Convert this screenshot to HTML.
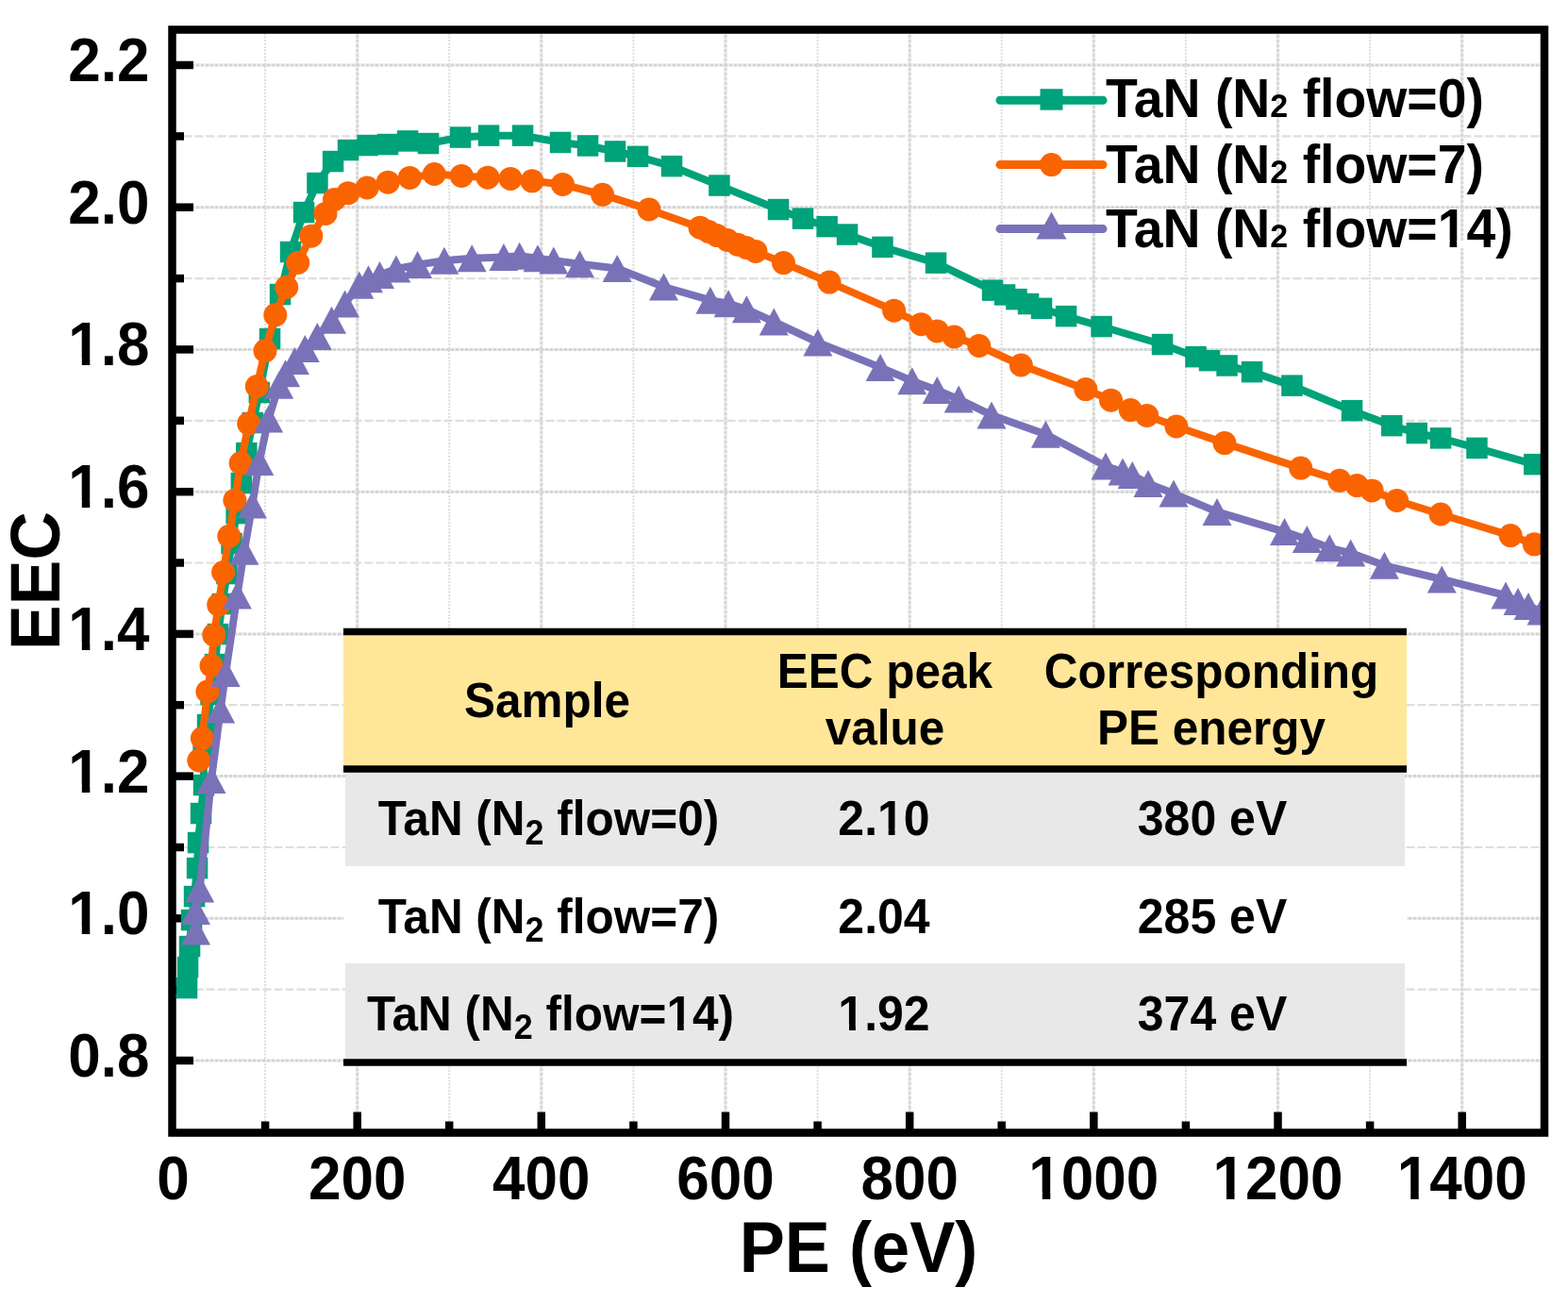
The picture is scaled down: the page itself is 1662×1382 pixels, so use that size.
<!DOCTYPE html>
<html><head><meta charset="utf-8"><title>EEC vs PE</title><style>
html,body{margin:0;padding:0;background:#fff;width:1662px;height:1382px;overflow:hidden}
.gM{stroke:#d4d4d4;stroke-width:3;stroke-dasharray:4 1}
.gm{stroke:#dedede;stroke-width:2.2;stroke-dasharray:9 3}
.vM{stroke:#d8d8d8;stroke-width:3.2;stroke-dasharray:4 1}
.vm{stroke:#dcdcdc;stroke-width:2;stroke-dasharray:2 1.5}
</style></head>
<body><svg width="1662" height="1382" viewBox="0 0 1662 1382" style="display:block"><rect width="1662" height="1382" fill="#fff"/><g><line x1="281.1" y1="31.5" x2="281.1" y2="1200.5" class="vm"/><line x1="378.7" y1="31.5" x2="378.7" y2="1200.5" class="vM"/><line x1="476.2" y1="31.5" x2="476.2" y2="1200.5" class="vm"/><line x1="573.8" y1="31.5" x2="573.8" y2="1200.5" class="vM"/><line x1="671.4" y1="31.5" x2="671.4" y2="1200.5" class="vm"/><line x1="769.0" y1="31.5" x2="769.0" y2="1200.5" class="vM"/><line x1="866.6" y1="31.5" x2="866.6" y2="1200.5" class="vm"/><line x1="964.2" y1="31.5" x2="964.2" y2="1200.5" class="vM"/><line x1="1061.7" y1="31.5" x2="1061.7" y2="1200.5" class="vm"/><line x1="1159.3" y1="31.5" x2="1159.3" y2="1200.5" class="vM"/><line x1="1256.9" y1="31.5" x2="1256.9" y2="1200.5" class="vm"/><line x1="1354.5" y1="31.5" x2="1354.5" y2="1200.5" class="vM"/><line x1="1452.1" y1="31.5" x2="1452.1" y2="1200.5" class="vm"/><line x1="1549.7" y1="31.5" x2="1549.7" y2="1200.5" class="vM"/><line x1="182.5" y1="1124.0" x2="1637" y2="1124.0" class="gM"/><line x1="182.5" y1="1048.7" x2="1637" y2="1048.7" class="gm"/><line x1="182.5" y1="973.3" x2="1637" y2="973.3" class="gM"/><line x1="182.5" y1="898.0" x2="1637" y2="898.0" class="gm"/><line x1="182.5" y1="822.6" x2="1637" y2="822.6" class="gM"/><line x1="182.5" y1="747.2" x2="1637" y2="747.2" class="gm"/><line x1="182.5" y1="671.9" x2="1637" y2="671.9" class="gM"/><line x1="182.5" y1="596.5" x2="1637" y2="596.5" class="gm"/><line x1="182.5" y1="521.2" x2="1637" y2="521.2" class="gM"/><line x1="182.5" y1="445.8" x2="1637" y2="445.8" class="gm"/><line x1="182.5" y1="370.4" x2="1637" y2="370.4" class="gM"/><line x1="182.5" y1="295.1" x2="1637" y2="295.1" class="gm"/><line x1="182.5" y1="219.7" x2="1637" y2="219.7" class="gM"/><line x1="182.5" y1="144.4" x2="1637" y2="144.4" class="gm"/><line x1="182.5" y1="69.0" x2="1637" y2="69.0" class="gM"/></g><g stroke="#000" stroke-width="8.5"><line x1="281.1" y1="1200.5" x2="281.1" y2="1188.5"/><line x1="378.7" y1="1200.5" x2="378.7" y2="1178.5"/><line x1="476.2" y1="1200.5" x2="476.2" y2="1188.5"/><line x1="573.8" y1="1200.5" x2="573.8" y2="1178.5"/><line x1="671.4" y1="1200.5" x2="671.4" y2="1188.5"/><line x1="769.0" y1="1200.5" x2="769.0" y2="1178.5"/><line x1="866.6" y1="1200.5" x2="866.6" y2="1188.5"/><line x1="964.2" y1="1200.5" x2="964.2" y2="1178.5"/><line x1="1061.7" y1="1200.5" x2="1061.7" y2="1188.5"/><line x1="1159.3" y1="1200.5" x2="1159.3" y2="1178.5"/><line x1="1256.9" y1="1200.5" x2="1256.9" y2="1188.5"/><line x1="1354.5" y1="1200.5" x2="1354.5" y2="1178.5"/><line x1="1452.1" y1="1200.5" x2="1452.1" y2="1188.5"/><line x1="1549.7" y1="1200.5" x2="1549.7" y2="1178.5"/><line x1="182.5" y1="1124.0" x2="205.0" y2="1124.0"/><line x1="182.5" y1="1048.7" x2="195.0" y2="1048.7"/><line x1="182.5" y1="973.3" x2="205.0" y2="973.3"/><line x1="182.5" y1="898.0" x2="195.0" y2="898.0"/><line x1="182.5" y1="822.6" x2="205.0" y2="822.6"/><line x1="182.5" y1="747.2" x2="195.0" y2="747.2"/><line x1="182.5" y1="671.9" x2="205.0" y2="671.9"/><line x1="182.5" y1="596.5" x2="195.0" y2="596.5"/><line x1="182.5" y1="521.2" x2="205.0" y2="521.2"/><line x1="182.5" y1="445.8" x2="195.0" y2="445.8"/><line x1="182.5" y1="370.4" x2="205.0" y2="370.4"/><line x1="182.5" y1="295.1" x2="195.0" y2="295.1"/><line x1="182.5" y1="219.7" x2="205.0" y2="219.7"/><line x1="182.5" y1="144.4" x2="195.0" y2="144.4"/><line x1="182.5" y1="69.0" x2="205.0" y2="69.0"/></g><rect x="364" y="670" width="1127" height="145" fill="#FFE699"/><rect x="366" y="815" width="1123" height="103" fill="#E8E8E8"/><rect x="364" y="918" width="1127" height="103" fill="#FFFFFF"/><rect x="366" y="1021" width="1123" height="102" fill="#E8E8E8"/><g stroke="#000" stroke-width="7.5"><line x1="364" y1="669.5" x2="1491" y2="669.5"/><line x1="364" y1="815" x2="1491" y2="815"/><line x1="364" y1="1126" x2="1491" y2="1126"/></g><text transform="translate(580.0,759.5) scale(0.9609,1)" text-anchor="middle" style="font-family:'Liberation Sans',Arial,sans-serif;font-weight:bold;font-size:51.51px">Sample</text><text transform="translate(938.0,729.0) scale(0.9609,1)" text-anchor="middle" style="font-family:'Liberation Sans',Arial,sans-serif;font-weight:bold;font-size:51.51px">EEC peak</text><text transform="translate(938.0,788.5) scale(0.9609,1)" text-anchor="middle" style="font-family:'Liberation Sans',Arial,sans-serif;font-weight:bold;font-size:51.51px">value</text><text transform="translate(1284.0,729.3) scale(0.9609,1)" text-anchor="middle" style="font-family:'Liberation Sans',Arial,sans-serif;font-weight:bold;font-size:51.51px">Corresponding</text><text transform="translate(1284.0,789.0) scale(0.9609,1)" text-anchor="middle" style="font-family:'Liberation Sans',Arial,sans-serif;font-weight:bold;font-size:51.51px">PE energy</text><text transform="translate(581.5,885.0) scale(0.9609,1)" text-anchor="middle" style="font-family:'Liberation Sans',Arial,sans-serif;font-weight:bold;font-size:51.51px">TaN (N<tspan dy="9.5" style="font-size:37.47px">2</tspan><tspan dy="-9.5"> flow=0)</tspan></text><text id="t1" transform="translate(937.0,885.0) scale(0.9609,1)" text-anchor="middle" style="font-family:'Liberation Sans',Arial,sans-serif;font-weight:bold;font-size:52.03px">2.10</text><g transform="translate(937.0,885.0) scale(0.9609,1)" fill="#E8E8E8"><rect x="-4.78" y="-6.61" width="9.67" height="7.81"/><rect x="12.02" y="-6.61" width="9.01" height="7.81"/></g><text transform="translate(1285.0,885.0) scale(0.9609,1)" text-anchor="middle" style="font-family:'Liberation Sans',Arial,sans-serif;font-weight:bold;font-size:52.03px">380 eV</text><text transform="translate(581.5,988.5) scale(0.9609,1)" text-anchor="middle" style="font-family:'Liberation Sans',Arial,sans-serif;font-weight:bold;font-size:51.51px">TaN (N<tspan dy="9.5" style="font-size:37.47px">2</tspan><tspan dy="-9.5"> flow=7)</tspan></text><text transform="translate(937.0,988.5) scale(0.9609,1)" text-anchor="middle" style="font-family:'Liberation Sans',Arial,sans-serif;font-weight:bold;font-size:52.03px">2.04</text><text transform="translate(1285.0,988.5) scale(0.9609,1)" text-anchor="middle" style="font-family:'Liberation Sans',Arial,sans-serif;font-weight:bold;font-size:52.03px">285 eV</text><text id="t2" transform="translate(583.5,1091.5) scale(0.9609,1)" text-anchor="middle" style="font-family:'Liberation Sans',Arial,sans-serif;font-weight:bold;font-size:51.51px">TaN (N<tspan dy="9.5" style="font-size:37.47px">2</tspan><tspan dy="-9.5"> flow=14)</tspan></text><g transform="translate(583.5,1091.5) scale(0.9609,1)" fill="#E8E8E8"><rect x="130.37" y="-6.56" width="9.58" height="7.76"/><rect x="147.01" y="-6.56" width="8.92" height="7.76"/></g><text id="t3" transform="translate(937.0,1091.5) scale(0.9609,1)" text-anchor="middle" style="font-family:'Liberation Sans',Arial,sans-serif;font-weight:bold;font-size:52.03px">1.92</text><g transform="translate(937.0,1091.5) scale(0.9609,1)" fill="#E8E8E8"><rect x="-48.15" y="-6.61" width="9.67" height="7.81"/><rect x="-31.35" y="-6.61" width="9.01" height="7.81"/></g><text transform="translate(1285.0,1091.5) scale(0.9609,1)" text-anchor="middle" style="font-family:'Liberation Sans',Arial,sans-serif;font-weight:bold;font-size:52.03px">374 eV</text><defs><clipPath id="pc"><rect x="182.5" y="31.5" width="1454.5" height="1169.0"/></clipPath></defs><g clip-path="url(#pc)"><polyline points="198.0,1047.0 199.0,1025.0 201.0,1003.0 203.0,975.0 206.0,950.0 209.0,920.0 210.0,893.0 213.0,862.0 216.0,832.0 215.7,800.0 220.0,768.0 223.6,736.0 228.1,704.0 230.9,672.0 235.8,640.0 240.4,608.0 245.6,576.0 250.7,544.0 255.8,512.0 261.3,480.0 267.9,448.0 274.9,416.0 286.0,359.0 297.0,312.0 308.0,267.0 322.0,225.0 336.5,194.0 353.0,171.0 369.0,159.0 389.6,154.0 411.0,153.0 432.0,149.4 454.0,152.0 488.0,145.6 518.0,143.7 554.0,143.7 594.0,150.9 623.0,154.5 652.0,160.5 676.0,165.8 712.0,176.2 762.5,196.6 825.0,222.0 851.0,231.7 876.6,240.2 898.0,248.6 935.5,261.8 992.0,278.7 1052.0,307.6 1065.0,312.5 1077.5,317.2 1090.0,322.0 1104.0,326.8 1130.0,335.2 1167.6,346.0 1232.0,365.0 1267.5,378.2 1282.0,382.2 1300.6,387.5 1327.0,394.1 1369.4,408.7 1433.0,435.2 1475.3,451.1 1501.8,459.0 1527.0,464.3 1565.4,474.9 1626.3,492.1" fill="none" stroke="#00A27A" stroke-width="8" stroke-linejoin="round"/><g fill="#00A27A"><rect x="186.8" y="1035.8" width="22.5" height="22.5"/><rect x="187.8" y="1013.8" width="22.5" height="22.5"/><rect x="189.8" y="991.8" width="22.5" height="22.5"/><rect x="191.8" y="963.8" width="22.5" height="22.5"/><rect x="194.8" y="938.8" width="22.5" height="22.5"/><rect x="197.8" y="908.8" width="22.5" height="22.5"/><rect x="198.8" y="881.8" width="22.5" height="22.5"/><rect x="201.8" y="850.8" width="22.5" height="22.5"/><rect x="204.8" y="820.8" width="22.5" height="22.5"/><rect x="204.4" y="788.8" width="22.5" height="22.5"/><rect x="208.8" y="756.8" width="22.5" height="22.5"/><rect x="212.3" y="724.8" width="22.5" height="22.5"/><rect x="216.8" y="692.8" width="22.5" height="22.5"/><rect x="219.7" y="660.8" width="22.5" height="22.5"/><rect x="224.6" y="628.8" width="22.5" height="22.5"/><rect x="229.2" y="596.8" width="22.5" height="22.5"/><rect x="234.3" y="564.8" width="22.5" height="22.5"/><rect x="239.4" y="532.8" width="22.5" height="22.5"/><rect x="244.6" y="500.8" width="22.5" height="22.5"/><rect x="250.1" y="468.8" width="22.5" height="22.5"/><rect x="256.6" y="436.8" width="22.5" height="22.5"/><rect x="263.6" y="404.8" width="22.5" height="22.5"/><rect x="274.8" y="347.8" width="22.5" height="22.5"/><rect x="285.8" y="300.8" width="22.5" height="22.5"/><rect x="296.8" y="255.8" width="22.5" height="22.5"/><rect x="310.8" y="213.8" width="22.5" height="22.5"/><rect x="325.2" y="182.8" width="22.5" height="22.5"/><rect x="341.8" y="159.8" width="22.5" height="22.5"/><rect x="357.8" y="147.8" width="22.5" height="22.5"/><rect x="378.4" y="142.8" width="22.5" height="22.5"/><rect x="399.8" y="141.8" width="22.5" height="22.5"/><rect x="420.8" y="138.2" width="22.5" height="22.5"/><rect x="442.8" y="140.8" width="22.5" height="22.5"/><rect x="476.8" y="134.3" width="22.5" height="22.5"/><rect x="506.8" y="132.4" width="22.5" height="22.5"/><rect x="542.8" y="132.4" width="22.5" height="22.5"/><rect x="582.8" y="139.7" width="22.5" height="22.5"/><rect x="611.8" y="143.2" width="22.5" height="22.5"/><rect x="640.8" y="149.2" width="22.5" height="22.5"/><rect x="664.8" y="154.6" width="22.5" height="22.5"/><rect x="700.8" y="164.9" width="22.5" height="22.5"/><rect x="751.2" y="185.3" width="22.5" height="22.5"/><rect x="813.8" y="210.8" width="22.5" height="22.5"/><rect x="839.8" y="220.4" width="22.5" height="22.5"/><rect x="865.4" y="228.9" width="22.5" height="22.5"/><rect x="886.8" y="237.3" width="22.5" height="22.5"/><rect x="924.2" y="250.6" width="22.5" height="22.5"/><rect x="980.8" y="267.4" width="22.5" height="22.5"/><rect x="1040.8" y="296.4" width="22.5" height="22.5"/><rect x="1053.8" y="301.2" width="22.5" height="22.5"/><rect x="1066.2" y="305.9" width="22.5" height="22.5"/><rect x="1078.8" y="310.8" width="22.5" height="22.5"/><rect x="1092.8" y="315.6" width="22.5" height="22.5"/><rect x="1118.8" y="323.9" width="22.5" height="22.5"/><rect x="1156.3" y="334.8" width="22.5" height="22.5"/><rect x="1220.8" y="353.8" width="22.5" height="22.5"/><rect x="1256.2" y="366.9" width="22.5" height="22.5"/><rect x="1270.8" y="370.9" width="22.5" height="22.5"/><rect x="1289.3" y="376.2" width="22.5" height="22.5"/><rect x="1315.8" y="382.9" width="22.5" height="22.5"/><rect x="1358.2" y="397.4" width="22.5" height="22.5"/><rect x="1421.8" y="423.9" width="22.5" height="22.5"/><rect x="1464.0" y="439.9" width="22.5" height="22.5"/><rect x="1490.5" y="447.8" width="22.5" height="22.5"/><rect x="1515.8" y="453.1" width="22.5" height="22.5"/><rect x="1554.2" y="463.6" width="22.5" height="22.5"/><rect x="1615.0" y="480.9" width="22.5" height="22.5"/></g><polyline points="210.8,806.0 214.4,782.6 219.9,733.0 224.0,705.5 226.8,672.9 231.7,640.9 236.6,606.5 242.8,568.3 248.9,530.2 255.1,490.8 263.7,448.9 272.3,409.5 281.0,371.8 291.8,333.8 303.7,304.5 315.7,278.5 329.8,250.2 345.0,226.4 354.4,211.5 369.0,204.7 389.1,199.0 411.2,193.2 434.3,188.4 460.3,184.5 489.2,186.4 517.0,188.2 541.1,189.4 564.0,191.8 596.4,195.4 638.6,206.3 687.9,221.9 742.0,241.2 751.0,245.5 760.1,249.6 771.0,254.5 781.8,259.2 791.0,262.5 801.0,266.4 830.5,278.6 879.0,299.1 947.6,329.2 976.4,343.7 993.3,350.9 1011.3,356.9 1037.8,366.5 1082.3,387.0 1150.8,412.6 1177.5,424.2 1198.3,434.6 1215.7,440.4 1246.9,452.0 1298.0,469.6 1378.7,496.1 1419.8,509.3 1438.3,514.6 1454.2,519.9 1480.6,530.5 1527.0,545.0 1601.1,567.6 1626.3,576.8" fill="none" stroke="#FA6400" stroke-width="8" stroke-linejoin="round"/><g fill="#FA6400"><circle cx="210.8" cy="806.0" r="12.5"/><circle cx="214.4" cy="782.6" r="12.5"/><circle cx="219.9" cy="733.0" r="12.5"/><circle cx="224.0" cy="705.5" r="12.5"/><circle cx="226.8" cy="672.9" r="12.5"/><circle cx="231.7" cy="640.9" r="12.5"/><circle cx="236.6" cy="606.5" r="12.5"/><circle cx="242.8" cy="568.3" r="12.5"/><circle cx="248.9" cy="530.2" r="12.5"/><circle cx="255.1" cy="490.8" r="12.5"/><circle cx="263.7" cy="448.9" r="12.5"/><circle cx="272.3" cy="409.5" r="12.5"/><circle cx="281.0" cy="371.8" r="12.5"/><circle cx="291.8" cy="333.8" r="12.5"/><circle cx="303.7" cy="304.5" r="12.5"/><circle cx="315.7" cy="278.5" r="12.5"/><circle cx="329.8" cy="250.2" r="12.5"/><circle cx="345.0" cy="226.4" r="12.5"/><circle cx="354.4" cy="211.5" r="12.5"/><circle cx="369.0" cy="204.7" r="12.5"/><circle cx="389.1" cy="199.0" r="12.5"/><circle cx="411.2" cy="193.2" r="12.5"/><circle cx="434.3" cy="188.4" r="12.5"/><circle cx="460.3" cy="184.5" r="12.5"/><circle cx="489.2" cy="186.4" r="12.5"/><circle cx="517.0" cy="188.2" r="12.5"/><circle cx="541.1" cy="189.4" r="12.5"/><circle cx="564.0" cy="191.8" r="12.5"/><circle cx="596.4" cy="195.4" r="12.5"/><circle cx="638.6" cy="206.3" r="12.5"/><circle cx="687.9" cy="221.9" r="12.5"/><circle cx="742.0" cy="241.2" r="12.5"/><circle cx="751.0" cy="245.5" r="12.5"/><circle cx="760.1" cy="249.6" r="12.5"/><circle cx="771.0" cy="254.5" r="12.5"/><circle cx="781.8" cy="259.2" r="12.5"/><circle cx="791.0" cy="262.5" r="12.5"/><circle cx="801.0" cy="266.4" r="12.5"/><circle cx="830.5" cy="278.6" r="12.5"/><circle cx="879.0" cy="299.1" r="12.5"/><circle cx="947.6" cy="329.2" r="12.5"/><circle cx="976.4" cy="343.7" r="12.5"/><circle cx="993.3" cy="350.9" r="12.5"/><circle cx="1011.3" cy="356.9" r="12.5"/><circle cx="1037.8" cy="366.5" r="12.5"/><circle cx="1082.3" cy="387.0" r="12.5"/><circle cx="1150.8" cy="412.6" r="12.5"/><circle cx="1177.5" cy="424.2" r="12.5"/><circle cx="1198.3" cy="434.6" r="12.5"/><circle cx="1215.7" cy="440.4" r="12.5"/><circle cx="1246.9" cy="452.0" r="12.5"/><circle cx="1298.0" cy="469.6" r="12.5"/><circle cx="1378.7" cy="496.1" r="12.5"/><circle cx="1419.8" cy="509.3" r="12.5"/><circle cx="1438.3" cy="514.6" r="12.5"/><circle cx="1454.2" cy="519.9" r="12.5"/><circle cx="1480.6" cy="530.5" r="12.5"/><circle cx="1527.0" cy="545.0" r="12.5"/><circle cx="1601.1" cy="567.6" r="12.5"/><circle cx="1626.3" cy="576.8" r="12.5"/></g><polyline points="207.5,987.0 207.5,965.5 211.7,942.0 224.0,826.5 233.7,752.0 239.2,713.5 251.4,631.1 258.8,584.3 267.4,535.1 274.8,489.5 284.6,444.0 295.7,408.3 302.6,395.7 312.4,382.6 323.3,369.6 336.3,356.6 351.5,339.2 365.6,321.9 380.8,302.3 390.5,295.8 402.5,291.5 419.9,285.0 442.6,280.6 470.9,276.3 500.2,273.7 533.9,272.5 550.7,271.3 570.0,273.7 586.8,276.1 614.5,279.7 654.2,284.5 703.5,304.0 752.9,318.2 772.1,321.8 791.4,327.8 820.3,341.0 866.9,362.9 933.1,389.4 966.8,403.8 993.3,413.5 1016.2,423.1 1051.0,439.9 1108.4,460.3 1172.0,494.0 1190.0,500.0 1200.2,503.6 1217.0,512.6 1244.0,523.1 1290.0,542.4 1361.5,563.6 1385.3,571.5 1409.2,580.8 1431.7,586.1 1467.4,599.3 1528.3,613.9 1596.0,631.0 1609.0,637.6 1620.0,642.6 1634.0,648.0" fill="none" stroke="#7A72B8" stroke-width="8" stroke-linejoin="round"/><g fill="#7A72B8"><polygon points="207.5,972.5 223.0,1001.5 192.0,1001.5"/><polygon points="207.5,951.0 223.0,980.0 192.0,980.0"/><polygon points="211.7,927.5 227.2,956.5 196.2,956.5"/><polygon points="224.0,812.0 239.5,841.0 208.5,841.0"/><polygon points="233.7,737.5 249.2,766.5 218.2,766.5"/><polygon points="239.2,699.0 254.7,728.0 223.7,728.0"/><polygon points="251.4,616.6 266.9,645.6 235.9,645.6"/><polygon points="258.8,569.8 274.3,598.8 243.3,598.8"/><polygon points="267.4,520.6 282.9,549.6 251.9,549.6"/><polygon points="274.8,475.0 290.3,504.0 259.3,504.0"/><polygon points="284.6,429.5 300.1,458.5 269.1,458.5"/><polygon points="295.7,393.8 311.2,422.8 280.2,422.8"/><polygon points="302.6,381.2 318.1,410.2 287.1,410.2"/><polygon points="312.4,368.1 327.9,397.1 296.9,397.1"/><polygon points="323.3,355.1 338.8,384.1 307.8,384.1"/><polygon points="336.3,342.1 351.8,371.1 320.8,371.1"/><polygon points="351.5,324.7 367.0,353.7 336.0,353.7"/><polygon points="365.6,307.4 381.1,336.4 350.1,336.4"/><polygon points="380.8,287.8 396.3,316.8 365.3,316.8"/><polygon points="390.5,281.3 406.0,310.3 375.0,310.3"/><polygon points="402.5,277.0 418.0,306.0 387.0,306.0"/><polygon points="419.9,270.5 435.4,299.5 404.4,299.5"/><polygon points="442.6,266.1 458.1,295.1 427.1,295.1"/><polygon points="470.9,261.8 486.4,290.8 455.4,290.8"/><polygon points="500.2,259.2 515.7,288.2 484.7,288.2"/><polygon points="533.9,258.0 549.4,287.0 518.4,287.0"/><polygon points="550.7,256.8 566.2,285.8 535.2,285.8"/><polygon points="570.0,259.2 585.5,288.2 554.5,288.2"/><polygon points="586.8,261.6 602.3,290.6 571.3,290.6"/><polygon points="614.5,265.2 630.0,294.2 599.0,294.2"/><polygon points="654.2,270.0 669.7,299.0 638.7,299.0"/><polygon points="703.5,289.5 719.0,318.5 688.0,318.5"/><polygon points="752.9,303.7 768.4,332.7 737.4,332.7"/><polygon points="772.1,307.3 787.6,336.3 756.6,336.3"/><polygon points="791.4,313.3 806.9,342.3 775.9,342.3"/><polygon points="820.3,326.5 835.8,355.5 804.8,355.5"/><polygon points="866.9,348.4 882.4,377.4 851.4,377.4"/><polygon points="933.1,374.9 948.6,403.9 917.6,403.9"/><polygon points="966.8,389.3 982.3,418.3 951.3,418.3"/><polygon points="993.3,399.0 1008.8,428.0 977.8,428.0"/><polygon points="1016.2,408.6 1031.7,437.6 1000.7,437.6"/><polygon points="1051.0,425.4 1066.5,454.4 1035.5,454.4"/><polygon points="1108.4,445.8 1123.9,474.8 1092.9,474.8"/><polygon points="1172.0,479.5 1187.5,508.5 1156.5,508.5"/><polygon points="1190.0,485.5 1205.5,514.5 1174.5,514.5"/><polygon points="1200.2,489.1 1215.7,518.1 1184.7,518.1"/><polygon points="1217.0,498.1 1232.5,527.1 1201.5,527.1"/><polygon points="1244.0,508.6 1259.5,537.6 1228.5,537.6"/><polygon points="1290.0,527.9 1305.5,556.9 1274.5,556.9"/><polygon points="1361.5,549.1 1377.0,578.1 1346.0,578.1"/><polygon points="1385.3,557.0 1400.8,586.0 1369.8,586.0"/><polygon points="1409.2,566.3 1424.7,595.3 1393.7,595.3"/><polygon points="1431.7,571.6 1447.2,600.6 1416.2,600.6"/><polygon points="1467.4,584.8 1482.9,613.8 1451.9,613.8"/><polygon points="1528.3,599.4 1543.8,628.4 1512.8,628.4"/><polygon points="1596.0,616.5 1611.5,645.5 1580.5,645.5"/><polygon points="1609.0,623.1 1624.5,652.1 1593.5,652.1"/><polygon points="1620.0,628.1 1635.5,657.1 1604.5,657.1"/><polygon points="1634.0,633.5 1649.5,662.5 1618.5,662.5"/></g></g><rect x="182.5" y="31.5" width="1454.5" height="1169.0" fill="none" stroke="#000" stroke-width="8.5"/><text transform="translate(183.5,1271.0) scale(0.9609,1)" text-anchor="middle" style="font-family:'Liberation Sans',Arial,sans-serif;font-weight:bold;font-size:64.52px">0</text><text transform="translate(378.7,1271.0) scale(0.9609,1)" text-anchor="middle" style="font-family:'Liberation Sans',Arial,sans-serif;font-weight:bold;font-size:64.52px">200</text><text transform="translate(573.8,1271.0) scale(0.9609,1)" text-anchor="middle" style="font-family:'Liberation Sans',Arial,sans-serif;font-weight:bold;font-size:64.52px">400</text><text transform="translate(769.0,1271.0) scale(0.9609,1)" text-anchor="middle" style="font-family:'Liberation Sans',Arial,sans-serif;font-weight:bold;font-size:64.52px">600</text><text transform="translate(964.2,1271.0) scale(0.9609,1)" text-anchor="middle" style="font-family:'Liberation Sans',Arial,sans-serif;font-weight:bold;font-size:64.52px">800</text><text id="t4" transform="translate(1159.3,1271.0) scale(0.9609,1)" text-anchor="middle" style="font-family:'Liberation Sans',Arial,sans-serif;font-weight:bold;font-size:64.52px">1000</text><g transform="translate(1159.3,1271.0) scale(0.9609,1)" fill="#FFFFFF"><rect x="-68.50" y="-7.88" width="11.79" height="9.08"/><rect x="-47.85" y="-7.88" width="10.98" height="9.08"/></g><text id="t5" transform="translate(1354.5,1271.0) scale(0.9609,1)" text-anchor="middle" style="font-family:'Liberation Sans',Arial,sans-serif;font-weight:bold;font-size:64.52px">1200</text><g transform="translate(1354.5,1271.0) scale(0.9609,1)" fill="#FFFFFF"><rect x="-68.50" y="-7.88" width="11.79" height="9.08"/><rect x="-47.85" y="-7.88" width="10.98" height="9.08"/></g><text id="t6" transform="translate(1549.7,1271.0) scale(0.9609,1)" text-anchor="middle" style="font-family:'Liberation Sans',Arial,sans-serif;font-weight:bold;font-size:64.52px">1400</text><g transform="translate(1549.7,1271.0) scale(0.9609,1)" fill="#FFFFFF"><rect x="-68.50" y="-7.88" width="11.79" height="9.08"/><rect x="-47.85" y="-7.88" width="10.98" height="9.08"/></g><text transform="translate(158.5,1141.0) scale(0.9609,1)" text-anchor="end" style="font-family:'Liberation Sans',Arial,sans-serif;font-weight:bold;font-size:64.52px">0.8</text><text id="t7" transform="translate(158.5,990.3) scale(0.9609,1)" text-anchor="end" style="font-family:'Liberation Sans',Arial,sans-serif;font-weight:bold;font-size:64.52px">1.0</text><g transform="translate(158.5,990.3) scale(0.9609,1)" fill="#FFFFFF"><rect x="-86.43" y="-7.88" width="11.79" height="9.08"/><rect x="-65.78" y="-7.88" width="10.98" height="9.08"/></g><text id="t8" transform="translate(158.5,839.6) scale(0.9609,1)" text-anchor="end" style="font-family:'Liberation Sans',Arial,sans-serif;font-weight:bold;font-size:64.52px">1.2</text><g transform="translate(158.5,839.6) scale(0.9609,1)" fill="#FFFFFF"><rect x="-86.43" y="-7.88" width="11.79" height="9.08"/><rect x="-65.78" y="-7.88" width="10.98" height="9.08"/></g><text id="t9" transform="translate(158.5,688.9) scale(0.9609,1)" text-anchor="end" style="font-family:'Liberation Sans',Arial,sans-serif;font-weight:bold;font-size:64.52px">1.4</text><g transform="translate(158.5,688.9) scale(0.9609,1)" fill="#FFFFFF"><rect x="-86.43" y="-7.88" width="11.79" height="9.08"/><rect x="-65.78" y="-7.88" width="10.98" height="9.08"/></g><text id="t10" transform="translate(158.5,538.2) scale(0.9609,1)" text-anchor="end" style="font-family:'Liberation Sans',Arial,sans-serif;font-weight:bold;font-size:64.52px">1.6</text><g transform="translate(158.5,538.2) scale(0.9609,1)" fill="#FFFFFF"><rect x="-86.43" y="-7.88" width="11.79" height="9.08"/><rect x="-65.78" y="-7.88" width="10.98" height="9.08"/></g><text id="t11" transform="translate(158.5,387.4) scale(0.9609,1)" text-anchor="end" style="font-family:'Liberation Sans',Arial,sans-serif;font-weight:bold;font-size:64.52px">1.8</text><g transform="translate(158.5,387.4) scale(0.9609,1)" fill="#FFFFFF"><rect x="-86.43" y="-7.88" width="11.79" height="9.08"/><rect x="-65.78" y="-7.88" width="10.98" height="9.08"/></g><text transform="translate(158.5,236.7) scale(0.9609,1)" text-anchor="end" style="font-family:'Liberation Sans',Arial,sans-serif;font-weight:bold;font-size:64.52px">2.0</text><text transform="translate(158.5,86.0) scale(0.9609,1)" text-anchor="end" style="font-family:'Liberation Sans',Arial,sans-serif;font-weight:bold;font-size:64.52px">2.2</text><text transform="translate(910.0,1348.0) scale(0.9609,1)" text-anchor="middle" style="font-family:'Liberation Sans',Arial,sans-serif;font-weight:bold;font-size:75.14px">PE (eV)</text><g transform="translate(62.5,615.5) rotate(-90)"><text transform="translate(0.0,0.0) scale(0.9609,1)" text-anchor="middle" style="font-family:'Liberation Sans',Arial,sans-serif;font-weight:bold;font-size:74.41px">EEC</text></g><line x1="1060" y1="106.2" x2="1169" y2="106.2" stroke="#00A27A" stroke-width="9" stroke-linecap="round"/><rect x="1102.5" y="94.2" width="24" height="22.5" fill="#00A27A"/><text transform="translate(1172.0,124.3) scale(0.9609,1)" text-anchor="start" style="font-family:'Liberation Sans',Arial,sans-serif;font-weight:bold;font-size:57.65px">TaN (N<tspan style="font-size:35.38px">2</tspan> flow=0)</text><line x1="1060" y1="174.6" x2="1169" y2="174.6" stroke="#FA6400" stroke-width="9" stroke-linecap="round"/><circle cx="1114.5" cy="174.6" r="12.5" fill="#FA6400"/><text transform="translate(1172.0,194.0) scale(0.9609,1)" text-anchor="start" style="font-family:'Liberation Sans',Arial,sans-serif;font-weight:bold;font-size:57.65px">TaN (N<tspan style="font-size:35.38px">2</tspan> flow=7)</text><line x1="1060" y1="242.6" x2="1169" y2="242.6" stroke="#7A72B8" stroke-width="9" stroke-linecap="round"/><polygon points="1114.5,224.6 1130.5,253.6 1098.5,253.6" fill="#7A72B8"/><text id="t12" transform="translate(1172.0,262.0) scale(0.9609,1)" text-anchor="start" style="font-family:'Liberation Sans',Arial,sans-serif;font-weight:bold;font-size:57.65px">TaN (N<tspan style="font-size:35.38px">2</tspan> flow=14)</text><g transform="translate(1172.0,262.0) scale(0.9609,1)" fill="#FFFFFF"><rect x="368.84" y="-7.18" width="10.62" height="8.38"/><rect x="387.37" y="-7.18" width="9.89" height="8.38"/></g></svg></body></html>
